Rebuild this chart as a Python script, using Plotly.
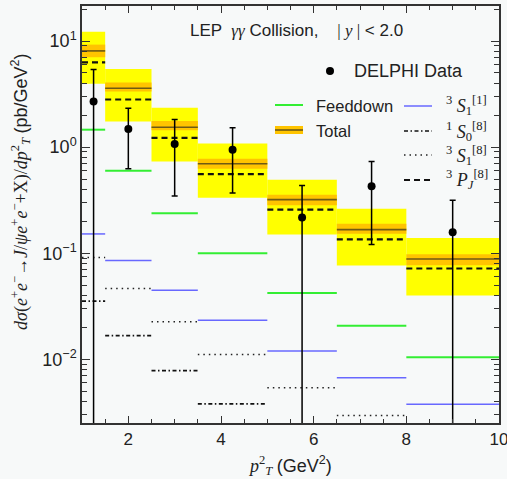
import plotly.graph_objects as go

# ---- data ----
bin_lo = [1.0, 1.5, 2.5, 3.5, 5.0, 6.5, 8.0]
bin_hi = [1.5, 2.5, 3.5, 5.0, 6.5, 8.0, 10.0]

band_outer_lo = [3.95, 1.74, 0.733, 0.334, 0.150, 0.0766, 0.040]
band_outer_hi = [12.2, 5.46, 2.35, 1.08, 0.493, 0.263, 0.139]
band_inner_lo = [7.03, 3.34, 1.44, 0.626, 0.283, 0.153, 0.077]
band_inner_hi = [9.25, 4.06, 1.76, 0.778, 0.356, 0.190, 0.098]
total = [8.07, 3.59, 1.54, 0.698, 0.320, 0.167, 0.0883]
pj8 = [6.3, 2.81, 1.22, 0.557, 0.258, 0.135, 0.0718]
feeddown = [1.46, 0.60, 0.238, 0.100, 0.0423, 0.0207, 0.01045]
s1_1 = [0.152, 0.0853, 0.0449, 0.0234, 0.0120, 0.00671, 0.00377]
s1_8 = [0.0911, 0.0466, 0.0226, 0.0111, 0.0054, 0.00295, 0.0016]
s0_8 = [0.0353, 0.0167, 0.00782, 0.0038, 0.0018, 0.0009, 0.0005]

data_x = [1.25, 2.0, 3.0, 4.25, 5.75, 7.25, 9.0]
data_y = [2.69, 1.48, 1.07, 0.945, 0.217, 0.427, 0.158]
data_hi = [5.38, 2.33, 1.82, 1.52, 0.436, 0.733, 0.315]
data_lo = [0.0005, 0.626, 0.346, 0.369, 0.0005, 0.121, 0.0005]

x_ticks = [2, 4, 6, 8, 10]
y_ticks = [0.01, 0.1, 1, 10]
y_ticktext = ["10<sup>−2</sup>", "10<sup>−1</sup>", "10<sup>0</sup>", "10<sup>1</sup>"]

YELLOW = "#ffff00"
ORANGE = "#ffc400"
TOTAL_C = "#6e5a14"
GREEN = "#33ee33"
BLUE = "#6868ff"
DOT = "1.5px,4px"
DASHDOT = "4px,2.5px,1.5px,2.5px"
DASH = "6px,4px"

fig = go.Figure()


def rect_trace(lo, hi, b, t, color):
    return go.Scatter(x=[lo, hi, hi, lo, lo], y=[b, b, t, t, b], mode="lines",
                      fill="toself", fillcolor=color, line=dict(width=0),
                      hoverinfo="skip", showlegend=False)


for i in range(len(bin_lo)):
    fig.add_trace(rect_trace(bin_lo[i], bin_hi[i], band_outer_lo[i], band_outer_hi[i], YELLOW))
for i in range(len(bin_lo)):
    fig.add_trace(rect_trace(bin_lo[i], bin_hi[i], band_inner_lo[i], band_inner_hi[i], ORANGE))


def step_trace(vals, color, width, dash):
    xs, ys = [], []
    for lo, hi, v in zip(bin_lo, bin_hi, vals):
        xs += [lo, hi, None]
        ys += [v, v, None]
    return go.Scatter(x=xs, y=ys, mode="lines", line=dict(color=color, width=width, dash=dash),
                      hoverinfo="skip", showlegend=False)


fig.add_trace(step_trace(feeddown, GREEN, 2, "solid"))
fig.add_trace(step_trace(s1_1, BLUE, 1.5, "solid"))
fig.add_trace(step_trace(s1_8, "#222222", 1.5, DOT))
fig.add_trace(step_trace(s0_8, "#111111", 1.7, DASHDOT))
fig.add_trace(step_trace(pj8, "#111111", 2.2, DASH))
fig.add_trace(step_trace(total, TOTAL_C, 1.6, "solid"))

fig.add_trace(go.Scatter(
    x=data_x, y=data_y, mode="markers",
    marker=dict(color="black", size=8),
    error_y=dict(type="data", symmetric=False,
                 array=[h - y for h, y in zip(data_hi, data_y)],
                 arrayminus=[y - l for y, l in zip(data_y, data_lo)],
                 color="black", thickness=1.5, width=3),
    showlegend=False, hoverinfo="skip"))

# ---- legend (manual) ----
W, H = 417.0, 417.0
L = 82.0


def px(x):
    return (x - L) / W


def py(y):
    return (423.0 - y) / H


shapes = []
annotations = []
FONT = "Liberation Sans, Arial, sans-serif"
TXT = "#222222"

fig.add_trace(go.Scatter(x=[px(330)], y=[py(71)], xaxis="x2", yaxis="y2", mode="markers",
                         marker=dict(color="black", size=8), showlegend=False, hoverinfo="skip"))
annotations.append(dict(x=px(352), y=py(71), xref="paper", yref="paper", text="DELPHI Data",
                        showarrow=False, xanchor="left", yanchor="middle",
                        font=dict(size=18, family=FONT, color=TXT)))
shapes.append(dict(type="line", xref="paper", yref="paper", x0=px(275), x1=px(303), y0=py(105), y1=py(105),
                   line=dict(color=GREEN, width=2)))
annotations.append(dict(x=px(314), y=py(106), xref="paper", yref="paper", text="Feeddown",
                        showarrow=False, xanchor="left", yanchor="middle",
                        font=dict(size=16.5, family=FONT, color=TXT)))
shapes.append(dict(type="rect", xref="paper", yref="paper", x0=px(275), x1=px(303), y0=py(134), y1=py(126),
                   fillcolor=ORANGE, line=dict(width=0)))
shapes.append(dict(type="line", xref="paper", yref="paper", x0=px(275), x1=px(303), y0=py(130), y1=py(130),
                   line=dict(color=TOTAL_C, width=1.6)))
annotations.append(dict(x=px(314), y=py(131), xref="paper", yref="paper", text="Total",
                        showarrow=False, xanchor="left", yanchor="middle",
                        font=dict(size=16.5, family=FONT, color=TXT)))
right_items = [
    (106, BLUE, "solid", 1.5, "<sup>3</sup> <i>S</i><sub>1</sub><sup>[1]</sup>"),
    (131, "#111111", DASHDOT, 1.7, "<sup>1</sup> <i>S</i><sub>0</sub><sup>[8]</sup>"),
    (155, "#222222", DOT, 1.5, "<sup>3</sup> <i>S</i><sub>1</sub><sup>[8]</sup>"),
    (180, "#111111", DASH, 2.2, "<sup>3</sup> <i>P</i><sub><i>J</i></sub><sup>[8]</sup>"),
]
for yy, col, dash, wd, label in right_items:
    shapes.append(dict(type="line", xref="paper", yref="paper", x0=px(404), x1=px(432), y0=py(yy), y1=py(yy),
                       line=dict(color=col, width=wd, dash=dash)))
    annotations.append(dict(x=px(444), y=py(yy), xref="paper", yref="paper", text=label,
                            showarrow=False, xanchor="left", yanchor="middle",
                            font=dict(size=18, family="Liberation Serif, serif", color=TXT)))

annotations.append(dict(x=px(188), y=py(31), xref="paper", yref="paper",
                        text="LEP  <span style='font-family:Liberation Serif'><i>γγ</i></span> Collision,    "
                             "<span style='font-family:Liberation Serif'>| <i>y</i> |</span> &lt; 2.0",
                        showarrow=False, xanchor="left", yanchor="middle",
                        font=dict(size=17, family=FONT, color=TXT)))

ytitle = ("<i>dσ</i>(<i>e</i><sup>+</sup><i>e</i><sup>−</sup>→<i>J</i>/<i>ψe</i><sup>+</sup><i>e</i><sup>−</sup>+X)"
          "/<i>dp</i><sup>2</sup><sub><i>T</i></sub> <span style='font-family:Liberation Sans'>(pb/GeV<sup>2</sup>)</span>")
annotations.append(dict(x=px(20), y=py(192), xref="paper", yref="paper", text=ytitle, textangle=-90,
                        showarrow=False, xanchor="center", yanchor="middle",
                        font=dict(size=18, family="Liberation Serif, serif", color=TXT)))
xtitle = ("<i>p</i><sup>2</sup><sub><i>T</i></sub> <span style='font-family:Liberation Sans'>(GeV<sup>2</sup>)</span>")
annotations.append(dict(x=px(290), y=py(465), xref="paper", yref="paper", text=xtitle,
                        showarrow=False, xanchor="center", yanchor="middle",
                        font=dict(size=18, family="Liberation Serif, serif", color=TXT)))

minor_y = [m * 10 ** e for e in range(-3, 2) for m in range(2, 10)]

fig.update_layout(
    width=507, height=479,
    margin=dict(l=82, r=8, t=6, b=56, autoexpand=False),
    paper_bgcolor="#f7f9f9", plot_bgcolor="#f7f9f9",
    showlegend=False,
    shapes=shapes, annotations=annotations,
    xaxis=dict(range=[1, 10], tickvals=x_ticks, ticks="inside", ticklen=7, tickwidth=1.3, tickcolor="#333",
               showgrid=False, zeroline=False, showline=True, linecolor="#333", linewidth=1.5, mirror="ticks",
               ticklabeloverflow="allow", automargin=False,
               tickfont=dict(size=17, family=FONT, color=TXT),
               minor=dict(tickvals=[1.5 + 0.5 * k for k in range(17)], ticks="inside", ticklen=4,
                          tickcolor="#333", showgrid=False)),
    yaxis=dict(type="log", range=[-2.6, 1.33], tickvals=y_ticks, ticktext=y_ticktext,
               ticks="inside", ticklen=8, tickwidth=1.3, tickcolor="#333",
               showgrid=False, zeroline=False, showline=True, linecolor="#333", linewidth=1.5, mirror="ticks",
               ticklabeloverflow="allow", automargin=False,
               tickfont=dict(size=18, family=FONT, color=TXT),
               minor=dict(tickvals=minor_y, ticks="inside", ticklen=5, tickcolor="#333", showgrid=False)),
    xaxis2=dict(range=[0, 1], visible=False, overlaying="x", domain=[0, 1]),
    yaxis2=dict(range=[0, 1], visible=False, overlaying="y", domain=[0, 1]),
)

fig.write_html("out.html")
